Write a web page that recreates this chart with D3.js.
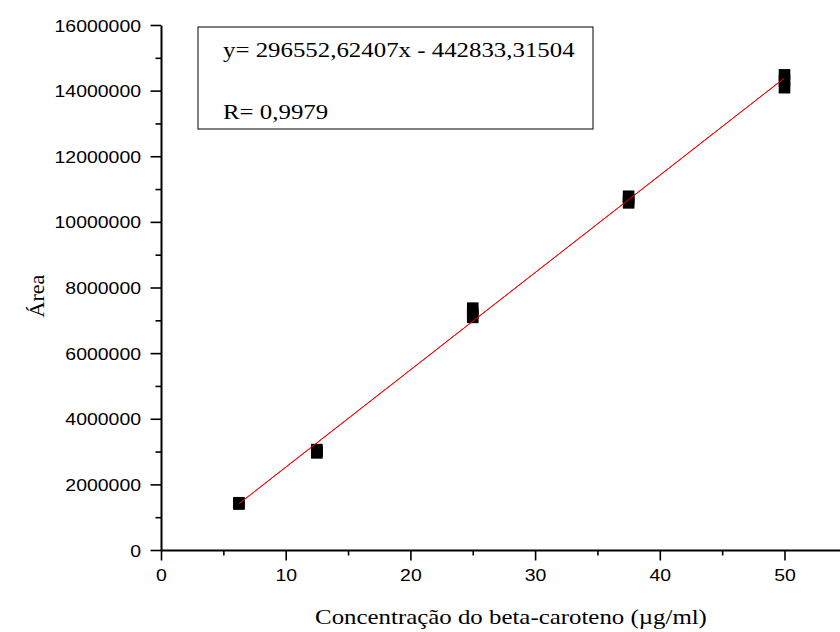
<!DOCTYPE html>
<html>
<head>
<meta charset="utf-8">
<script src="https://cdn.jsdelivr.net/npm/d3@7/dist/d3.min.js"></script>
<style>
  html, body { margin: 0; padding: 0; background: #fff; }
  svg { display: block; }
</style>
</head>
<body>
<svg id="chart" width="840" height="632"></svg>
<script>
// Calibration standards: concentration (µg/ml) and replicate peak areas
const concentrations = [6.25, 12.5, 25, 37.5, 50];
const replicateAreas = [
  [1400000, 1440000],
  [2960000, 3010000, 3060000],
  [7090000, 7220000, 7370000],
  [10580000, 10680000, 10780000],
  [14090000, 14300000, 14480000]
];
// Linear fit reported for the curve
const fitSlope = 296552.62407;
const fitIntercept = -442833.31504;
const fitRange = [6.25, 50];
const fitLabel = "y= 296552,62407x - 442833,31504";
const corrLabel = "R= 0,9979";
// Axis ticks
const xTicks = [0, 10, 20, 30, 40, 50];
const xMinorTicks = [5, 15, 25, 35, 45, 55];
const yTicks = [0, 2000000, 4000000, 6000000, 8000000, 10000000, 12000000, 14000000, 16000000];
const yMinorTicks = [1000000, 3000000, 5000000, 7000000, 9000000, 11000000, 13000000, 15000000];
const xTitle = "Concentração do beta-caroteno (µg/ml)";
const yTitle = "Área";

const svg = d3.select("#chart");
const SX = 1.13;               // horizontal text stretch
const sans = "'Liberation Sans', Arial, sans-serif";
const serif = "'Liberation Serif', 'Times New Roman', serif";

const x = d3.scaleLinear().domain([0, 55]).range([161, 161 + 55 * 12.47]);
const y = d3.scaleLinear().domain([0, 16000000]).range([550, 25]);

function stretchTickText(g, dx, dy) {
  g.selectAll(".tick text")
    .attr("x", null).attr("y", null).attr("dy", null)
    .attr("transform", `translate(${dx},${dy}) scale(${SX},1)`)
    .style("font-family", sans)
    .style("font-size", "17.2px")
    .attr("fill", "#000");
}

// Minor ticks
svg.append("g")
  .attr("transform", `translate(0,${y(0)})`)
  .call(d3.axisBottom(x).tickValues(xMinorTicks).tickSize(5.5).tickFormat(""))
  .call(g => g.select(".domain").remove())
  .call(g => g.selectAll("line").attr("stroke-width", 1.6));
svg.append("g")
  .attr("transform", `translate(${x(0)},0)`)
  .call(d3.axisLeft(y).tickValues(yMinorTicks).tickSize(5.5).tickFormat(""))
  .call(g => g.select(".domain").remove())
  .call(g => g.selectAll("line").attr("stroke-width", 1.6));

// Major axes
const gx = svg.append("g")
  .attr("transform", `translate(0,${y(0)})`)
  .call(d3.axisBottom(x).tickValues(xTicks).tickSize(10.5).tickSizeOuter(0).tickFormat(d3.format("d")));
gx.select(".domain").attr("stroke-width", 2);
gx.selectAll("line").attr("stroke-width", 1.6);
stretchTickText(gx, 0, 31);

const gy = svg.append("g")
  .attr("transform", `translate(${x(0)},0)`)
  .call(d3.axisLeft(y).tickValues(yTicks).tickSize(10.5).tickSizeOuter(0).tickFormat(d3.format("d")));
gy.select(".domain").attr("stroke-width", 2);
gy.selectAll("line").attr("stroke-width", 1.6);
stretchTickText(gy, -20, 6);

// Fit line
svg.append("line")
  .attr("x1", x(fitRange[0])).attr("y1", y(fitSlope * fitRange[0] + fitIntercept))
  .attr("x2", x(fitRange[1])).attr("y2", y(fitSlope * fitRange[1] + fitIntercept))
  .attr("stroke", "#ff0000").attr("stroke-width", 1);

// Replicate markers
const points = [];
concentrations.forEach((c, i) => replicateAreas[i].forEach(a => points.push({ c, a })));
const ms = 11.6;
svg.append("g").selectAll("rect")
  .data(points).join("rect")
  .attr("x", d => x(d.c) - ms / 2)
  .attr("y", d => y(d.a) - ms / 2)
  .attr("width", ms).attr("height", ms)
  .attr("fill", "#000");

// Redraw fit line on top inside markers region
svg.append("line")
  .attr("x1", x(fitRange[0])).attr("y1", y(fitSlope * fitRange[0] + fitIntercept))
  .attr("x2", x(fitRange[1])).attr("y2", y(fitSlope * fitRange[1] + fitIntercept))
  .attr("stroke", "#ff0000").attr("stroke-width", 1);

// Equation box
svg.append("rect")
  .attr("x", 198).attr("y", 27).attr("width", 395).attr("height", 102)
  .attr("fill", "#fff").attr("stroke", "#000").attr("stroke-width", 1);
[[fitLabel, 57], [corrLabel, 118.5]].forEach(([t, by]) => {
  svg.append("text")
    .attr("transform", `translate(223,${by}) scale(${SX},1)`)
    .style("font-family", serif).style("font-size", "22px")
    .attr("fill", "#000").text(t);
});

// Axis titles
svg.append("text")
  .attr("transform", `translate(511,624) scale(${SX},1)`)
  .attr("text-anchor", "middle")
  .style("font-family", serif).style("font-size", "22px")
  .attr("fill", "#000").text(xTitle);
svg.append("text")
  .attr("transform", `translate(44,296) rotate(-90)`)
  .attr("text-anchor", "middle")
  .style("font-family", serif).style("font-size", "22px")
  .attr("fill", "#000").text(yTitle);
</script>
</body>
</html>
